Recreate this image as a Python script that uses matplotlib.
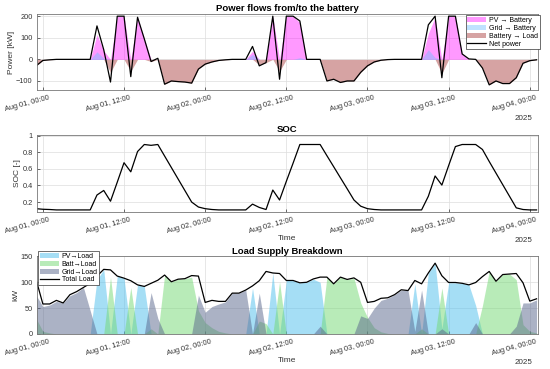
import numpy as np
import pandas as pd
import matplotlib
matplotlib.use("Agg")
from matplotlib import pyplot as plt
import matplotlib.dates as mdates
import matplotlib.transforms as mtrans

plt.rcParams['font.family'] = ['Liberation Sans', 'DejaVu Sans']
plt.rcParams['font.size'] = 6

# hourly samples, Jul 31 23:00 .. Aug 04 00:00
t = pd.date_range("2025-07-31 23:00", periods=75, freq="h")

net_power = [-30, -5, -2, 0, 0, 0, 0, 0, 0, 155, 45, -105, 200, 200, -80, 195, 95, -10, 5,
             -115, -100, -103, -105, -110, -45, -22, -12, -5, -2, 0, 0, 0, 60, -30, -15, 200,
             -92, 200, 200, 178, 0, 0, 0, -100, -92, -107, -100, -100, -60, -30, -12, -4, -1,
             0, 0, 0, 0, 0, 160, 200, -85, 200, 200, 25, 2, 0, -40, -118, -100, -112, -112,
             -85, -18, -6, -2]
pv_bat = [0, 0, 0, 0, 0, 0, 0, 0, 0, 115, 40, 0, 200, 200, 0, 195, 95, 0, 0,
          0, 0, 0, 0, 0, 0, 0, 0, 0, 0, 0, 0, 0, 38, 0, 0, 200,
          0, 200, 200, 170, 0, 0, 0, 0, 0, 0, 0, 0, 0, 0, 0, 0, 0,
          0, 0, 0, 0, 0, 120, 195, 0, 200, 200, 25, 0, 0, 0, 0, 0, 0, 0,
          0, 0, 0, 0]
grid_bat = [0, 0, 0, 0, 0, 0, 0, 0, 0, 35, 5, 0, 0, 0, 0, 0, 0, 0, 0,
            0, 0, 0, 0, 0, 0, 0, 0, 0, 0, 0, 0, 0, 23, 0, 0, 0,
            0, 0, 0, 8, 0, 0, 0, 0, 0, 0, 0, 0, 0, 0, 0, 0, 0,
            0, 0, 0, 0, 0, 45, 8, 0, 0, 0, 0, 0, 0, 0, 0, 0, 0, 0,
            0, 0, 0, 0]
bat_load = [30, 5, 2, 0, 0, 0, 0, 0, 0, 0, 0, 60, 0, 0, 55, 0, 0, 10, 0,
            115, 100, 103, 105, 110, 45, 22, 12, 5, 2, 0, 0, 0, 0, 25, 15, 0,
            55, 0, 0, 0, 0, 0, 0, 100, 92, 107, 100, 100, 60, 30, 12, 4, 1,
            0, 0, 0, 0, 0, 0, 0, 65, 0, 0, 0, 0, 0, 40, 118, 100, 112, 112,
            85, 18, 6, 2]

soc = [0.12, 0.113, 0.11, 0.105, 0.105, 0.105, 0.105, 0.105, 0.105, 0.285, 0.34, 0.21,
       0.44, 0.675, 0.565, 0.81, 0.895, 0.885, 0.895, 0.756, 0.617, 0.478, 0.339, 0.2,
       0.14, 0.12, 0.11, 0.105, 0.105, 0.105, 0.105, 0.105, 0.175, 0.135, 0.11, 0.345,
       0.225, 0.45, 0.67, 0.895, 0.895, 0.895, 0.895, 0.76, 0.627, 0.493, 0.36, 0.225,
       0.15, 0.12, 0.11, 0.105, 0.105, 0.105, 0.105, 0.105, 0.105, 0.105, 0.27, 0.515,
       0.405, 0.64, 0.87, 0.895, 0.895, 0.895, 0.835, 0.69, 0.55, 0.41, 0.27, 0.13,
       0.11, 0.105, 0.105]

total_load = [105, 58, 58, 65, 60, 76, 82, 90, 98, 112, 125, 124, 112, 108, 103, 95, 92, 98,
              104, 114, 101, 106, 107, 113, 112, 61, 65, 63, 63, 79, 79, 85, 93, 103, 121,
              118, 117, 103.5, 103.5, 99, 100, 106.5, 110, 110, 97, 110, 105.5, 108.5, 100,
              61, 63, 69, 70, 76, 85.5, 84, 103.5, 97, 118, 137, 112.6, 99.6, 99.6, 98, 95,
              99.6, 111, 121, 102, 115, 116, 117, 99, 63.5, 68]
pv_load = [0, 0, 0, 0, 0, 0, 0, 0, 0, 105, 125, 0, 112, 108, 0, 95, 92, 0,
           0, 0, 0, 0, 0, 0, 0, 0, 0, 0, 0, 0, 0, 0, 89, 0, 0,
           118, 0, 103.5, 103.5, 99, 100, 106, 100, 0, 0, 0, 0, 0, 0,
           0, 0, 0, 0, 0, 0, 0, 97, 0, 118, 137, 10, 99, 99, 98, 95,
           55, 0, 0, 0, 0, 0, 0, 0, 0, 0]
batt_load = [30, 5, 2, 0, 0, 0, 0, 0, 0, 0, 0, 110, 0, 0, 90, 0, 0, 10,
             0, 114, 101, 106, 107, 110, 45, 22, 12, 5, 2, 0, 0, 0, 0, 25, 20,
             0, 101, 0, 0, 0, 0, 0, 0, 110, 97, 110, 105, 108, 60,
             32, 12, 4, 1, 0, 0, 0, 0, 10, 0, 0, 89, 0, 0, 0, 0,
             0, 55, 121, 102, 115, 116, 105, 18, 5, 2]
grid_load = [75, 53, 56, 63, 60, 74, 80, 90, 45, 0, 0, 0, 0, 0, 0, 0, 0, 80,
             30, 0, 0, 0, 0, 0, 75, 42, 53, 58, 62, 79, 79, 85, 0, 79, 0,
             0, 0, 0, 0, 0, 0, 0, 15, 0, 0, 0, 0, 0, 35,
             30, 50, 65, 69, 76, 85, 84, 5, 85, 0, 0, 10, 0, 0, 0, 0,
             22, 0, 0, 0, 0, 0, 15, 60, 60, 66]

fig = plt.figure(figsize=(5.5, 3.69), dpi=100)
ax1 = fig.add_axes([0.067, 0.756, 0.911, 0.206])
ax2 = fig.add_axes([0.067, 0.4255, 0.911, 0.2087])
ax3 = fig.add_axes([0.067, 0.095, 0.911, 0.210])

t0 = pd.Timestamp("2025-08-01 00:00")
xlo = t0 - pd.Timedelta(hours=0.89)
xhi = t0 + pd.Timedelta(hours=73.2)

leg_kw = dict(fontsize=5.0, frameon=True, fancybox=False, edgecolor="#333333", framealpha=1,
              borderpad=0.25, labelspacing=0.12, handlelength=2.7, handletextpad=0.4,
              borderaxespad=0.2)

# power flows
ax1.fill_between(t, pv_bat, color=(1, 0, 1), alpha=0.4, lw=0, label="PV → Battery")
ax1.fill_between(t, grid_bat, color=(0.45, 0.75, 1), alpha=0.45, lw=0, label="Grid → Battery")
ax1.fill_between(t, -np.array(bat_load), color=(0.65, 0.2, 0.2), alpha=0.45, lw=0, label="Battery → Load")
ax1.plot(t, net_power, color="k", lw=0.9, label="Net power")
ax1.set_ylim(-142, 210)
ax1.set_yticks([-100, 0, 100, 200])
ax1.set_ylabel("Power [kW]", labelpad=1)
ax1.set_title("Power flows from/to the battery", fontsize=6.8, fontweight="bold", pad=2)
leg1 = ax1.legend(loc="upper right", bbox_to_anchor=(1.006, 1.0), **leg_kw)
leg1.get_frame().set_linewidth(0.5)

# SOC
ax2.plot(t, soc, color="k", lw=0.9)
ax2.set_ylim(0.08, 1.01)
ax2.set_yticks([0.2, 0.4, 0.6, 0.8, 1])
ax2.set_yticklabels(["0.2", "0.4", "0.6", "0.8", "1"])
ax2.set_ylabel("SOC [-]", labelpad=1)
ax2.set_title("SOC", fontsize=6.8, fontweight="bold", pad=2)
ax2.set_xlabel("Time", labelpad=0)

# load supply
ax3.fill_between(t, pv_load, color=(0.3, 0.75, 0.93), alpha=0.5, lw=0, label="PV→Load")
ax3.fill_between(t, batt_load, color=(0.45, 0.85, 0.45), alpha=0.5, lw=0, label="Batt→Load")
ax3.fill_between(t, grid_load, color=(0.35, 0.4, 0.55), alpha=0.5, lw=0, label="Grid→Load")
ax3.plot(t, total_load, color="k", lw=0.9, label="Total Load")
ax3.set_ylim(0, 150)
ax3.set_yticks([0, 50, 100, 150])
ax3.set_ylabel("kW", labelpad=1)
ax3.set_title("Load Supply Breakdown", fontsize=6.8, fontweight="bold", pad=2)
ax3.set_xlabel("Time", labelpad=0)
leg3 = ax3.legend(loc="upper left", bbox_to_anchor=(0.0, 1.085), **leg_kw)
leg3.get_frame().set_linewidth(0.5)

ticks = pd.date_range("2025-08-01 00:00", periods=7, freq="12h")
shift = mtrans.ScaledTranslation(4 / 72, 0, fig.dpi_scale_trans)
for ax in (ax1, ax2, ax3):
    ax.set_xlim(xlo, xhi)
    ax.set_xticks(ticks)
    ax.xaxis.set_major_formatter(mdates.DateFormatter("%b %d, %H:%M"))
    ax.tick_params(direction="in", length=2.5, width=0.5, colors="#333333", labelsize=5.3, pad=3)
    for lab in ax.get_xticklabels():
        lab.set_rotation(15)
        lab.set_ha("right")
        lab.set_rotation_mode("anchor")
        lab.set_transform(lab.get_transform() + shift)
    ax.grid(True, color="#dddddd", lw=0.5)
    ax.set_axisbelow(True)
    for s in ax.spines.values():
        s.set_color("#777777")
        s.set_linewidth(0.6)
    ax.yaxis.label.set_color("#333333")
    ax.xaxis.label.set_color("#333333")
    ax.text(0.99, -0.37, "2025", transform=ax.transAxes, ha="right", va="center",
            fontsize=5.8, color="#333333")

fig.savefig("out.png", dpi=100)
